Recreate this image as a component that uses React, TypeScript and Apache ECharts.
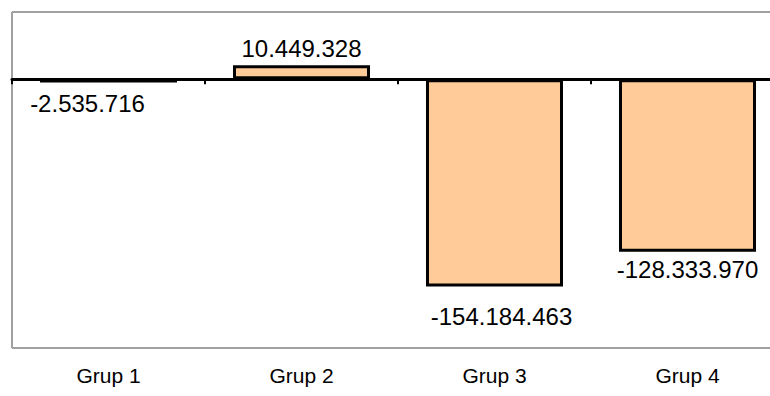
import React, { useEffect, useRef } from "react";
import * as echarts from "echarts";

const categories = ["Grup 1", "Grup 2", "Grup 3", "Grup 4"];
const values = [-2535716, 10449328, -154184463, -128333970];
const labelPositions = ["bottom", "top", "bottom", "bottom"];
const labelDistances = [9, 5, 18, 6];
const labelOffsets = [[-21, 0], [0, 0], [7, 0], [0, 0]];

function fmt(v: number): string {
  const s = Math.abs(Math.round(v)).toString().replace(/\B(?=(\d{3})+(?!\d))/g, ".");
  return (v < 0 ? "-" : "") + s;
}

const GRID_LEFT = 12;
const GRID_TOP = 12;
const GRID_BOTTOM_Y = 348;
const CHART_W = 784;
const CHART_H = 396;

export default function App() {
  const ref = useRef<HTMLDivElement>(null);
  useEffect(() => {
    if (!ref.current) return;
    const chart = echarts.init(ref.current, undefined, { renderer: "svg" });
    const frameStyle = { stroke: "#a0a0a0", lineWidth: 2 };
    chart.setOption({
      animation: false,
      backgroundColor: "#ffffff",
      grid: {
        left: GRID_LEFT,
        top: GRID_TOP,
        right: 0,
        bottom: CHART_H - GRID_BOTTOM_Y,
        show: false,
      },
      graphic: [
        {
          type: "line",
          z: -1,
          shape: { x1: GRID_LEFT, y1: GRID_TOP, x2: CHART_W + 10, y2: GRID_TOP },
          style: frameStyle,
        },
        {
          type: "line",
          z: -1,
          shape: { x1: GRID_LEFT, y1: GRID_TOP, x2: GRID_LEFT, y2: GRID_BOTTOM_Y },
          style: frameStyle,
        },
        {
          type: "line",
          z: -1,
          shape: { x1: GRID_LEFT, y1: GRID_BOTTOM_Y, x2: CHART_W + 10, y2: GRID_BOTTOM_Y },
          style: frameStyle,
        },
      ],
      xAxis: [
        {
          type: "category",
          data: categories,
          position: "bottom",
          axisLine: { show: true, onZero: true, lineStyle: { color: "#000", width: 3 } },
          axisTick: { show: true, length: 5, lineStyle: { color: "#000", width: 2 } },
          axisLabel: { show: false },
        },
        {
          type: "category",
          data: categories,
          position: "bottom",
          axisLine: { show: false, onZero: false },
          axisTick: { show: false },
          axisLabel: {
            show: true,
            margin: 17,
            color: "#000",
            fontFamily: "Liberation Sans",
            fontSize: 21,
          },
        },
      ],
      yAxis: {
        type: "value",
        min: -200000000,
        max: 50000000,
        show: false,
        splitLine: { show: false },
      },
      series: [
        {
          type: "bar",
          xAxisIndex: 0,
          barWidth: 137,
          data: values.map((v, i) => ({
            value: v,
            label: {
              show: true,
              position: labelPositions[i],
              distance: labelDistances[i],
              offset: labelOffsets[i],
              formatter: () => fmt(v),
              color: "#000",
              fontFamily: "Liberation Sans",
              fontSize: 24,
            },
          })),
          itemStyle: { color: "#FFCC99", borderColor: "#000", borderWidth: 3 },
        },
      ],
    });
    return () => chart.dispose();
  }, []);
  return (
    <div
      style={{
        position: "fixed",
        left: 0,
        top: 0,
        width: 770,
        height: CHART_H,
        overflow: "hidden",
        background: "#fff",
      }}
    >
      <div ref={ref} style={{ width: CHART_W, height: CHART_H }} />
    </div>
  );
}
